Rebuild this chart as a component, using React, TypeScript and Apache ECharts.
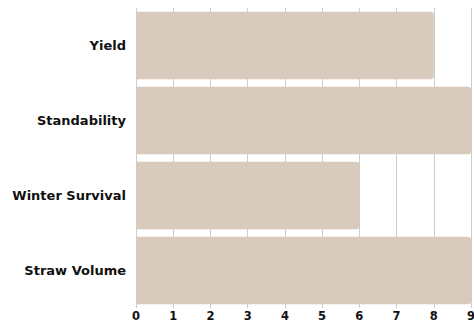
import React, { useEffect, useRef } from "react";
import * as echarts from "echarts";

const categories = ["Yield", "Standability", "Winter Survival", "Straw Volume"];
const values = [8, 9, 6, 9];
const xTicks = [0, 1, 2, 3, 4, 5, 6, 7, 8, 9];

export default function App() {
  const ref = useRef<HTMLDivElement>(null);
  useEffect(() => {
    if (!ref.current) return;
    const chart = echarts.init(ref.current, null, { renderer: "svg" });
    chart.setOption({
      animation: false,
      grid: { left: 136, right: 3, top: 8, bottom: 15, containLabel: false, outerBoundsMode: "none" },
      xAxis: {
        type: "value",
        min: xTicks[0],
        max: xTicks[xTicks.length - 1],
        interval: 1,
        axisLine: { show: false },
        axisTick: { show: false },
        splitLine: { show: true, lineStyle: { color: "#cccccc", width: 1 } },
        axisLabel: {
          color: "#111111",
          fontFamily: "DejaVu Sans",
          fontWeight: "bold",
          fontSize: 11.5,
          lineHeight: 12,
          margin: 2,
          showMaxLabel: true,
        },
      },
      yAxis: {
        type: "category",
        data: categories,
        inverse: true,
        axisLine: { show: false },
        axisTick: { show: false },
        axisLabel: {
          color: "#111111",
          fontFamily: "DejaVu Sans",
          fontWeight: "bold",
          fontSize: 13,
          margin: 10,
        },
      },
      series: [
        {
          type: "bar",
          data: values,
          barCategoryGap: "10%",
          itemStyle: { color: "#d8cbbd", borderRadius: [0, 3, 3, 0] },
        },
      ],
    });
    return () => chart.dispose();
  }, []);
  return <div ref={ref} style={{ width: 474, height: 323, position: "absolute", left: 0, top: 0 }} />;
}
